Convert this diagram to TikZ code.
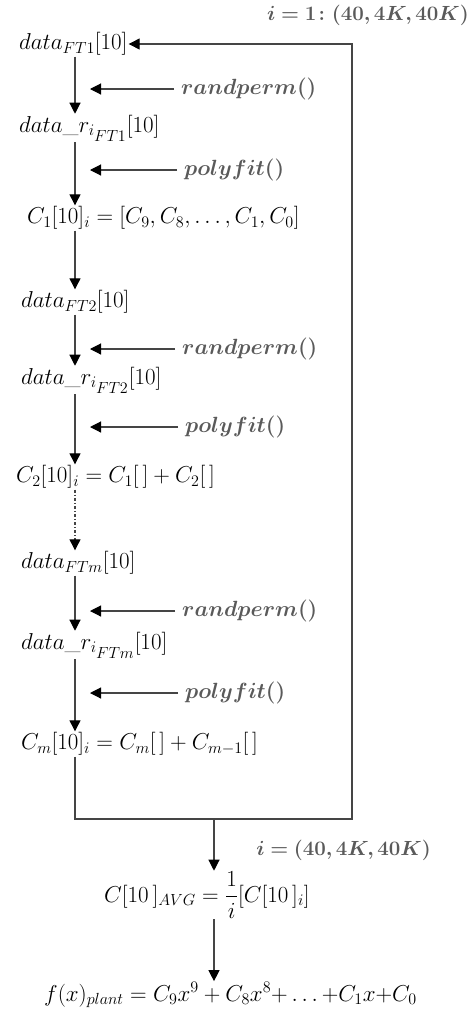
\documentclass[tikz,border=0pt]{standalone}
\usepackage{fix-cm}
\usepackage{amsmath}
\usepackage{bm}
\usetikzlibrary{arrows.meta}
\definecolor{linegray}{HTML}{454545}
\definecolor{labelgray}{HTML}{5A5A5A}
\tikzset{
  term/.style={
    anchor=west,
    inner sep=1pt,
    font=\fontsize{23}{28}\selectfont,
  },
  tool/.style={
    anchor=west,
    inner sep=1pt,
    text=labelgray,
    font=\fontsize{22}{26}\selectfont,
  },
  loopnote/.style={
    anchor=east,
    inner sep=1pt,
    text=labelgray,
    font=\fontsize{20.5}{24}\selectfont,
  },
  flow/.style={
    draw=linegray,
    line width=1.1pt,
    -{Triangle[length=11pt,width=11pt,color=black]},
  }
}
\newcommand{\toolname}[1]{$\bm{#1}$}

\begin{document}
\begin{tikzpicture}[x=1pt, y=-1pt]
  \useasboundingbox (0, 0) rectangle (474, 1010);

  % main column
  \coordinate (col) at (75, 0);
  \coordinate (tip) at (90, 0);
  \coordinate (loopbr) at (352, 819);
  \coordinate (outcol) at (214, 0);

  \node[term] (d1) at (18, 44) {$data_{FT1}[10]$};
  \node[term] (r1) at (18, 128) {$data\_r_{i_{\scriptstyle FT1}}[10]$};
  \node[term] (c1) at (26, 218) {$C_1[10]_i = [C_9, C_8, \ldots, C_1, C_0]$};
  \node[term] (d2) at (20, 302) {$data_{FT2}[10]$};
  \node[term] (r2) at (20, 380) {$data\_r_{i_{\scriptstyle FT2}}[10]$};
  \node[term] (c2) at (15, 477) {$C_2[10]_i = C_1[\,] + C_2[\,]$};
  \node[term] (dm) at (20, 563) {$data_{FTm}[10]$};
  \node[term] (rm) at (20, 645) {$data\_r_{i_{\scriptstyle FTm}}[10]$};
  \node[term] (cm) at (20, 744) {$C_m[10]_i = C_m[\,] + C_{m-1}[\,]$};

  % side inputs
  \node[tool] (rp1) at (180, 89) {\toolname{randperm()}};
  \node[tool] (pf1) at (183, 170) {\toolname{polyfit()}};
  \node[tool] (rp2) at (181, 349) {\toolname{randperm()}};
  \node[tool] (pf2) at (184, 427) {\toolname{polyfit()}};
  \node[tool] (rpm) at (181, 611) {\toolname{randperm()}};
  \node[tool] (pfm) at (184, 693) {\toolname{polyfit()}};

  % loop labels
  \node[loopnote] (first) at (470, 15) {$\bm{i = 1\colon (40, 4K, 40K)}$};
  \node[loopnote] (count) at (432, 850) {$\bm{i = (40, 4K, 40K)}$};

  % result
  \node[term] (avg) at (103, 895) {$C[10\,]_{AVG} = \dfrac{1}{i}[C[10\,]_i]$};
  \node[term] (plant) at (43, 995) {$f(x)_{plant} = C_9x^9 + C_8x^8{+}\ldots{+}C_1x{+}C_0$};

  \draw[flow] (d1.south -| col) -- (r1.north -| col);
  \draw[flow] (r1.south -| col) -- (c1.north -| col);
  \draw[flow] (c1.south -| col) -- (d2.north -| col);
  \draw[flow] (d2.south -| col) -- (r2.north -| col);
  \draw[flow] (r2.south -| col) -- (c2.north -| col);
  \draw[flow, dash dot] (c2.south -| col) -- (dm.north -| col);
  \draw[flow] (dm.south -| col) -- (rm.north -| col);
  \draw[flow] (rm.south -| col) -- (cm.north -| col);

  \foreach \src in {rp1, pf1, rp2, pf2, rpm, pfm}
    \draw[flow, shorten <=6pt] (\src.west) -- (\src.west -| tip);

  % repeat loop
  \draw[flow] (cm.south -| col) |- (loopbr) |- (d1.east);

  \draw[flow] (loopbr -| outcol) -- (avg.north -| outcol);
  \draw[flow] (avg.south -| outcol) -- (plant.north -| outcol);

\end{tikzpicture}
\end{document}
